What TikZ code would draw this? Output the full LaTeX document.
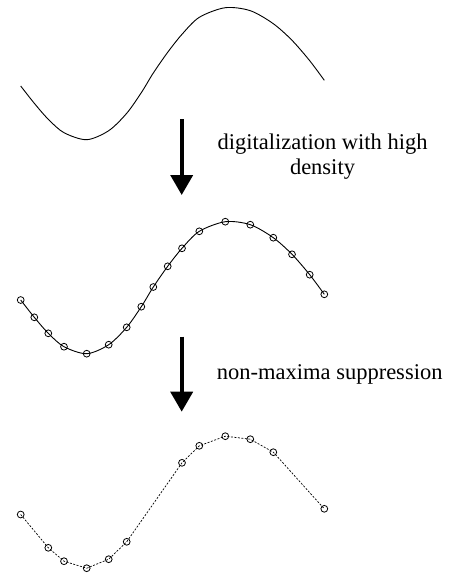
\documentclass[tikz,border=0pt]{standalone}
\usepackage{fontspec}
\setmainfont{Liberation Serif}
\usetikzlibrary{arrows.meta, positioning, calc}

\tikzset{
    sample/.style={circle, draw, minimum size=6.8pt, inner sep=0pt, line width=0.8pt},
    curve/.style={line width=0.9pt},
    thinned/.style={line width=0.7pt, dash pattern=on 2pt off 1.5pt},
    bigarrow/.style={line width=3.8pt, -{Triangle[width=22pt, length=20pt]}},
    caption/.style={font=\fontsize{22.5}{24.5}\selectfont, align=center, inner sep=0pt}
}

\begin{document}
\begin{tikzpicture}[x=1pt, y=-1pt]
    \useasboundingbox (0,0) rectangle (450,573);
    % samples of the curve, one row per picture
    \foreach \i/\px/\py in {1/20.7/300, 2/34.3/317.3, 3/48.3/333.3, 4/64/346.7,
        5/86.7/353.7, 6/108.7/344.7, 7/126.7/327.3, 8/141.3/306.7, 9/153.3/287,
        10/167.7/266.3, 11/182/248.3, 12/199.3/231.3, 13/225.3/221.7,
        14/250.3/224.7, 15/273.3/237.7, 16/292/254.3, 17/309.7/274.7,
        18/324.3/294.3} {
        \coordinate (t\i) at (\px,\py-214);
        \node[sample] (m\i) at (\px,\py) {};
        \coordinate (b\i) at (\px,\py+214.5);
    }
    % original curve
    \draw[curve] plot[smooth] coordinates {(t1) (t2) (t3) (t4) (t5) (t6) (t7)
        (t8) (t9) (t10) (t11) (t12) (t13) (t14) (t15) (t16) (t17) (t18)};
    % dense sampling
    \draw[curve] plot[smooth] coordinates {(m1.center) (m2.center) (m3.center)
        (m4.center) (m5.center) (m6.center) (m7.center) (m8.center) (m9.center)
        (m10.center) (m11.center) (m12.center) (m13.center) (m14.center)
        (m15.center) (m16.center) (m17.center) (m18.center)};
    % kept samples
    \foreach \i in {1,3,4,5,6,7,11,12,13,14,15,18}
        \node[sample] (s\i) at (b\i) {};
    \draw[thinned] (s1.center) -- (s3.center) -- (s4.center) -- (s5.center)
        -- (s6.center) -- (s7.center) -- (s11.center) -- (s12.center)
        -- (s13.center) -- (s14.center) -- (s15.center) -- (s18.center);

    % arrows and labels
    \coordinate (a1) at (181.7,119.3);
    \coordinate (a1tip) at (181.7,195);
    \coordinate (a2) at (181.7,336.7);
    \coordinate (a2tip) at (181.7,411.7);
    \draw[bigarrow] (a1) -- (a1tip);
    \draw[bigarrow] (a2) -- (a2tip);
    \node[caption, anchor=base] (digit) at (322.5,174.3) {digitalization with high\\density};
    \node[caption, anchor=base west] (nms) at (216.7,379.5) {non-maxima suppression};
\end{tikzpicture}
\end{document}
